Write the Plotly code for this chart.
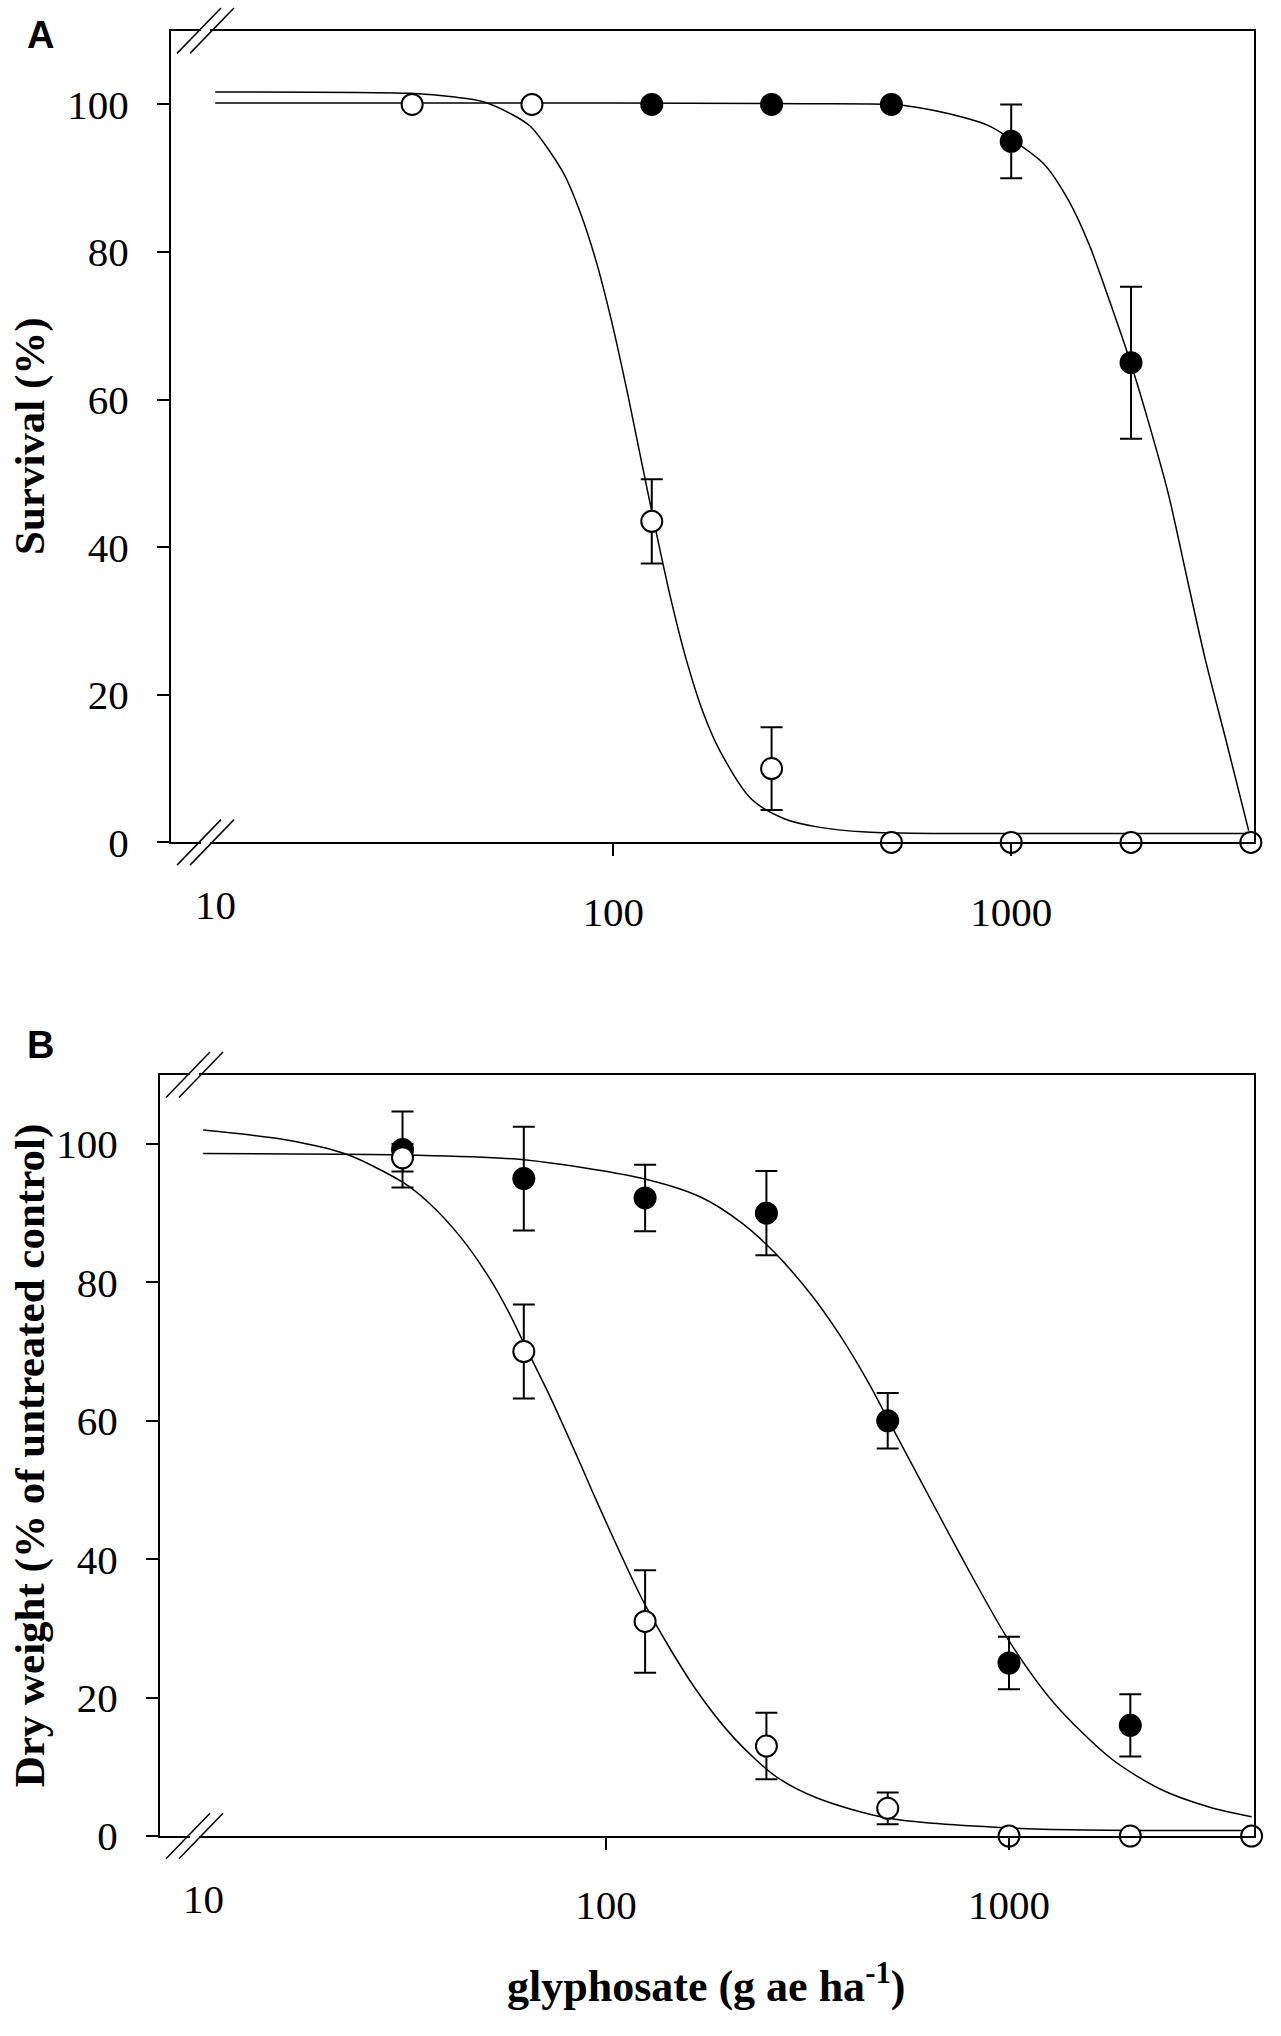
import plotly.graph_objects as go

W, H = 1281, 2036

# glyphosate doses (g ae ha-1)
dose = [31.25, 62.5, 125, 250, 500, 1000, 2000, 4000]

# Panel A - survival (%)
a_open_y = [100, 100, 43.5, 10, 0, 0, 0, 0]
a_open_err = [None, None, 5.7, 5.6, None, None, None, None]
a_fill_x = [125, 250, 500, 1000, 2000]
a_fill_y = [100, 100, 100, 95, 65]
a_fill_err = [None, None, None, 5, 10.3]

# fitted curves
a_open_curve_x = [10, 31, 40, 47, 55, 62, 75, 83, 91, 99, 109, 118, 127, 139, 152, 168, 185, 223, 269, 325, 432, 700, 4000]
a_open_curve_y = [101.7, 101.5, 101.0, 100.4, 98.8, 97.0, 90.7, 85.1, 78.4, 70.7, 60.5, 51.4, 43.1, 33.4, 25.1, 17.7, 12.5, 5.8, 3.2, 2.1, 1.4, 1.2, 1.2]
a_fill_curve_x = [10, 100, 300, 500, 583, 703, 871, 1000, 1210, 1400, 1570, 1766, 1990, 2190, 2480, 2750, 3070, 3470, 3950]
a_fill_curve_y = [100.2, 100.2, 100.1, 100.0, 99.6, 98.7, 97.2, 95.3, 91.9, 86.8, 81.0, 73.4, 65.2, 57.8, 47.3, 36.4, 24.9, 13.7, 1.6]

# Panel B - dry weight (% of untreated control)
b_open_y = [98, 70, 31, 13, 4, 0, 0, 0]
b_open_err = [2, 6.8, 7.4, 4.8, 2.3, None, None, None]
b_fill_x = [31.25, 62.5, 125, 250, 500, 1000, 2000]
b_fill_y = [99.2, 95, 92.2, 90, 60, 25, 16]
b_fill_err = [5.5, 7.5, 4.8, 6.1, 4, 3.8, 4.5]

b_open_curve_x = [10, 16, 22.7, 31.2, 36.3, 43.6, 51.5, 57.8, 62.5, 73, 86, 94.4, 125, 165.6, 209, 264, 334, 500, 1072, 4000]
b_open_curve_y = [102, 100.6, 98.5, 94.5, 91.5, 86.5, 80.5, 75.3, 71.2, 63.2, 54.0, 48.6, 33.4, 21.5, 14.0, 8.6, 5.5, 2.6, 1.1, 0.8]
b_fill_curve_x = [10, 32.3, 62.5, 121, 172, 217, 262, 323, 380, 449, 505, 622, 810, 1000, 1294, 1791, 2370, 3135, 4000]
b_fill_curve_y = [98.6, 98.4, 97.7, 95.1, 92.3, 88.6, 84.3, 78.2, 72.4, 65.4, 59.8, 49.9, 37.5, 28.2, 19.2, 11.2, 6.8, 4.2, 2.8]

y_ticks = [0, 20, 40, 60, 80, 100]
x_ticks = [100, 1000]

SERIF = 'Liberation Serif, Times New Roman, serif'
SANS = 'Liberation Sans, Arial, sans-serif'


def px(x, y):
    return x / W, 1 - y / H


fig = go.Figure()


def add_panel(xa, ya, open_y, open_err, fill_x, fill_y, fill_err,
              ocx, ocy, fcx, fcy):
    for cx, cy in ((ocx, ocy), (fcx, fcy)):
        fig.add_trace(go.Scatter(x=cx, y=cy, mode='lines',
                                 line=dict(color='black', width=1.5, shape='spline', smoothing=0.8),
                                 xaxis=xa, yaxis=ya, showlegend=False, hoverinfo='skip'))
    fig.add_trace(go.Scatter(x=fill_x, y=fill_y, mode='markers', cliponaxis=False,
                             marker=dict(symbol='circle', size=21, color='black', line=dict(color='black', width=2)),
                             error_y=dict(type='data', array=fill_err, visible=True, color='black', thickness=2, width=11),
                             xaxis=xa, yaxis=ya, showlegend=False))
    fig.add_trace(go.Scatter(x=dose, y=open_y, mode='markers', cliponaxis=False,
                             marker=dict(symbol='circle', size=21, color='white', line=dict(color='black', width=2)),
                             error_y=dict(type='data', array=open_err, visible=True, color='black', thickness=2, width=11),
                             xaxis=xa, yaxis=ya, showlegend=False))


add_panel('x', 'y', a_open_y, a_open_err, a_fill_x, a_fill_y, a_fill_err,
          a_open_curve_x, a_open_curve_y, a_fill_curve_x, a_fill_curve_y)
add_panel('x2', 'y2', b_open_y, b_open_err, b_fill_x, b_fill_y, b_fill_err,
          b_open_curve_x, b_open_curve_y, b_fill_curve_x, b_fill_curve_y)

axis_common = dict(showline=True, mirror=True, linecolor='black', linewidth=2,
                   showgrid=False, zeroline=False, ticks='outside', ticklen=12,
                   tickwidth=2, tickcolor='black',
                   tickfont=dict(family=SERIF, size=41, color='black'))

# panel geometry in pixels: left, right, top, bottom
panels = {'A': (171, 1254, 31, 852), 'B': (160, 1254, 1087, 1857)}

fig.update_layout(
    width=W, height=H, margin=dict(l=0, r=0, t=0, b=0),
    paper_bgcolor='white', plot_bgcolor='white',
    xaxis=dict(axis_common, type='log', range=[0.889, 3.61], tickvals=x_ticks, ticktext=['100', '1000'],
               domain=[171 / W, 1254 / W], anchor='y', ticklabelstandoff=20),
    yaxis=dict(axis_common, range=[0, 110], tickvals=y_ticks,
               domain=[1 - 852 / H, 1 - 31 / H], anchor='x', ticklabelstandoff=20),
    xaxis2=dict(axis_common, type='log', range=[0.893, 3.608], tickvals=x_ticks, ticktext=['100', '1000'],
                domain=[160 / W, 1254 / W], anchor='y2', ticklabelstandoff=20),
    yaxis2=dict(axis_common, range=[0, 110], tickvals=y_ticks,
                domain=[1 - 1857 / H, 1 - 1087 / H], anchor='x2', ticklabelstandoff=20),
)

annotations = []
# "10" labels under the axis breaks
for xa, ya in (('x', 'y'), ('x2', 'y2')):
    annotations.append(dict(x=1, y=0, xref=xa, yref=ya, text='10', showarrow=False,
                            xanchor='center', yanchor='top', yshift=-38,
                            font=dict(family=SERIF, size=41, color='black')))


def label(x, y, text, font, size, angle=0):
    return dict(x=px(x, 0)[0], y=px(0, y)[1], xref='paper', yref='paper', text=text, showarrow=False,
                xanchor='center', yanchor='middle', textangle=angle,
                font=dict(family=font, size=size, color='black'))


annotations += [
    label(40, 35, '<b>A</b>', SANS, 38),
    label(40, 1057, '<b>B</b>', SANS, 38),
    label(30, 441, '<b>Survival (%)</b>', SERIF, 43, -90),
    label(30, 1472, '<b>Dry weight (% of untreated control)</b>', SERIF, 43, -90),
    label(706, 2006, '<b>glyphosate (g ae ha<sup>-1</sup>)</b>', SERIF, 44),
]
fig.update_layout(annotations=annotations)

# axis break marks on the top and bottom frame lines
shapes = []
for left, right, top, bottom in panels.values():
    for yline in (top, bottom):
        x0, y0 = px(left + 30, yline)
        x1, _ = px(left + 39, yline)
        shapes.append(dict(type='line', xref='paper', yref='paper', x0=x0, y0=y0, x1=x1, y1=y0,
                           line=dict(color='white', width=4), layer='above'))
        for c in (left + 28, left + 41):
            xa0, ya0 = px(c - 22, yline + 23)
            xa1, ya1 = px(c + 22, yline - 23)
            shapes.append(dict(type='line', xref='paper', yref='paper', x0=xa0, y0=ya0, x1=xa1, y1=ya1,
                               line=dict(color='black', width=1.5), layer='above'))
fig.update_layout(shapes=shapes)

# drop the default page margin so the figure sits at the window origin
fig.write_html('out.html', config={'displayModeBar': False},
               post_script="document.body.style.margin='0';")
